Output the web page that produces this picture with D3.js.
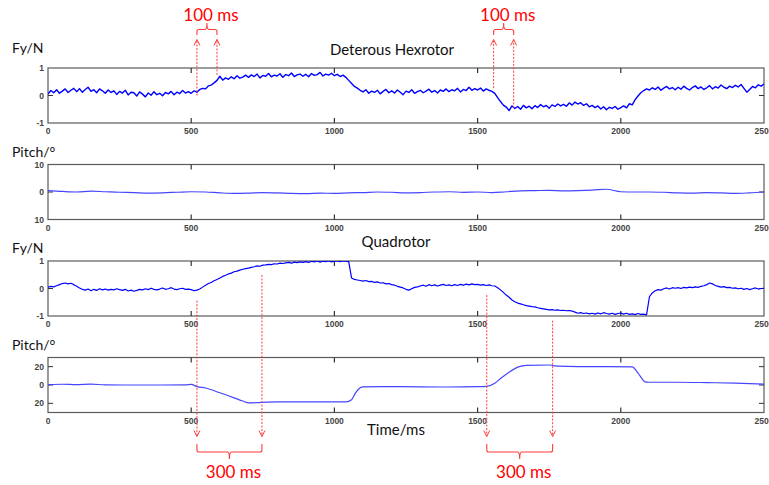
<!DOCTYPE html>
<html>
<head>
<meta charset="utf-8">
<script src="https://cdnjs.cloudflare.com/ajax/libs/d3/7.8.5/d3.min.js"></script>
<style>
  body { margin: 0; background: #fff; }
  svg { display: block; }
  .tickLabel { font-family: "Liberation Sans", Arial, sans-serif; font-size: 8.5px; font-weight: bold; fill: #444; }
  .axisTitle { font-family: Lato, "Open Sans", sans-serif; font-size: 14px; fill: #111; }
  .note { font-family: Lato, "Open Sans", sans-serif; font-size: 17px; fill: #ff0000; }
</style>
</head>
<body>
<script>

  //Data: time axis ticks and labels
  var xTicks = [0, 500, 1000, 1500, 2000, 2500];
  var xTickLabels = ["0", "500", "1000", "1500", "2000", "2500"];

  var fyTicks = [1, 0, -1];
  var fyTickLabels = ["1", "0", "-1"];
  var pitchHexTicks = [10, 0, -10];
  var pitchHexTickLabels = ["10", "0", "10"];
  var pitchQuadTicks = [20, 0, -20];
  var pitchQuadTickLabels = ["20", "0", "20"];

  // Fy of the hexrotor, one sample every 10 ms (0..2500)
  var fyHex = [
    0.05, 0.18, 0.10, 0.21, 0.08, 0.16, 0.24, 0.11, 0.19, 0.26,
    0.14, 0.25, 0.12, 0.22, 0.30, 0.15, 0.21, 0.10, 0.24, 0.17,
    0.08, 0.20, 0.11, 0.17, 0.04, 0.15, 0.09, 0.19, 0.02, 0.12,
    0.10, -0.02, 0.13, 0.05, -0.05, 0.09, 0.01, 0.14, 0.03, 0.08,
    -0.01, 0.11, 0.06, 0.15, 0.03, 0.12, 0.07, 0.18, 0.09, 0.14,
    0.08, 0.17, 0.12, 0.22, 0.26, 0.24, 0.35, 0.38, 0.46, 0.55,
    0.70, 0.56, 0.64, 0.59, 0.68, 0.61, 0.72, 0.63, 0.67, 0.74,
    0.66, 0.75, 0.69, 0.78, 0.64, 0.73, 0.70, 0.80, 0.68, 0.74,
    0.71, 0.79, 0.66, 0.76, 0.72, 0.82, 0.69, 0.75, 0.78, 0.70,
    0.77, 0.68, 0.80, 0.73, 0.76, 0.84, 0.71, 0.78, 0.74, 0.81,
    0.72, 0.77, 0.69, 0.74, 0.66, 0.55, 0.44, 0.33, 0.27, 0.19,
    0.13, 0.21, 0.08, 0.16, 0.11, 0.19, 0.06, 0.15, 0.22, 0.10,
    0.17, 0.09, 0.20, 0.12, 0.03, 0.16, 0.11, 0.21, 0.08, 0.14,
    0.19, 0.10, 0.16, 0.23, 0.12, 0.18, 0.09, 0.20, 0.15, 0.24,
    0.14, 0.21, 0.17, 0.26, 0.13, 0.22, 0.18, 0.30, 0.19, 0.25,
    0.20, 0.27, 0.16, 0.24, 0.19, 0.15, 0.08, -0.08, -0.22, -0.35,
    -0.42, -0.55, -0.38, -0.47, -0.40, -0.50, -0.36, -0.45, -0.39, -0.48,
    -0.37, -0.44, -0.33, -0.41, -0.36, -0.46, -0.34, -0.40, -0.31, -0.38,
    -0.32, -0.39, -0.27, -0.35, -0.24, -0.31, -0.26, -0.36, -0.30, -0.41,
    -0.36, -0.44, -0.38, -0.49, -0.41, -0.52, -0.43, -0.47, -0.40, -0.50,
    -0.44, -0.38, -0.45, -0.30, -0.34, -0.15, -0.02, 0.10, 0.18, 0.24,
    0.20, 0.28, 0.22, 0.31, 0.19, 0.27, 0.33, 0.24, 0.29, 0.21,
    0.30, 0.23, 0.34, 0.26, 0.20, 0.29, 0.35, 0.25, 0.31, 0.22,
    0.28, 0.36, 0.24, 0.32, 0.27, 0.38, 0.30, 0.25, 0.34, 0.29,
    0.37, 0.31, 0.40, 0.26, 0.12, 0.22, 0.33, 0.28, 0.39, 0.34,
    0.42
  ];

  // Pitch of the hexrotor, one sample every 50 ms
  var pitchHex = [
    0.5, 0.2, 0.0, 0.3, 0.1, -0.1, -0.2, -0.4, -0.3, -0.1,
    0.1, 0.0, -0.3, -0.5, -0.4, -0.2, -0.3, -0.5, -0.6, -0.4,
    -0.5, -0.3, -0.2, 0.0, -0.1, -0.3, -0.2, 0.0, 0.1, -0.1,
    0.0, -0.2, 0.1, 0.4, 0.5, 0.6, 0.4, 0.5, 0.7, 1.0,
    0.1, 0.0, 0.0, -0.1, -0.3, -0.4, -0.2, -0.3, -0.5, -0.3,
    0.0
  ];

  // Fy of the quadrotor, one sample every 10 ms
  var fyQuad = [
    0.05, 0.08, 0.06, 0.10, 0.14, 0.18, 0.20, 0.17, 0.19, 0.14,
    0.08, 0.02, -0.03, -0.06, -0.02, -0.08, -0.03, -0.07, -0.01, -0.05,
    -0.02, -0.06, -0.03, -0.05, -0.01, -0.04, -0.07, -0.03, -0.09, -0.06,
    -0.10, -0.07, -0.03, -0.05, -0.01, -0.04, 0.01, -0.03, -0.05, -0.02,
    0.02, -0.03, -0.01, 0.03, -0.02, -0.04, -0.01, 0.01, -0.03, -0.02,
    -0.04, -0.08, -0.06, -0.02, 0.05, 0.12, 0.18, 0.22, 0.28, 0.33,
    0.38, 0.44, 0.48, 0.53, 0.56, 0.61, 0.63, 0.67, 0.70, 0.72,
    0.74, 0.77, 0.79, 0.82, 0.81, 0.85, 0.86, 0.88, 0.87, 0.90,
    0.89, 0.92, 0.91, 0.93, 0.95, 0.92, 0.96, 0.94, 0.97, 0.95,
    0.98, 0.95, 0.99, 0.97, 1.00, 0.96, 0.99, 0.98, 1.00, 0.97,
    0.99, 1.00, 0.98, 1.00, 0.99, 0.98, 0.38, 0.33, 0.31, 0.29,
    0.27, 0.29, 0.25, 0.26, 0.22, 0.24, 0.20, 0.21, 0.17, 0.18,
    0.14, 0.12, 0.08, 0.05, 0.02, -0.03, -0.06, -0.01, 0.04, 0.06,
    0.09, 0.12, 0.08, 0.14, 0.10, 0.13, 0.09, 0.12, 0.15, 0.11,
    0.13, 0.10, 0.14, 0.11, 0.15, 0.12, 0.16, 0.13, 0.17, 0.14,
    0.15, 0.12, 0.14, 0.11, 0.13, 0.10, 0.09, 0.03, -0.05, -0.14,
    -0.24, -0.32, -0.42, -0.48, -0.53, -0.56, -0.59, -0.62, -0.64, -0.66,
    -0.67, -0.70, -0.72, -0.74, -0.76, -0.78, -0.77, -0.79, -0.78, -0.80,
    -0.79, -0.81, -0.80, -0.82, -0.86, -0.90, -0.88, -0.91, -0.89, -0.92,
    -0.90, -0.93, -0.89, -0.92, -0.88, -0.91, -0.93, -0.90, -0.94, -0.91,
    -0.89, -0.93, -0.90, -0.94, -0.92, -0.95, -0.91, -0.94, -0.93, -0.96,
    -0.30, -0.16, -0.08, -0.04, -0.06, -0.01, 0.02, -0.02, 0.03, 0.01,
    0.03, 0.00, 0.04, 0.02, 0.05, 0.03, 0.06, 0.04, 0.08, 0.10,
    0.14, 0.20, 0.17, 0.11, 0.08, 0.05, 0.07, 0.03, 0.04, 0.01,
    0.02, -0.01, 0.01, -0.03, 0.00, -0.04, -0.01, 0.02, -0.02, 0.00,
    0.01
  ];

  // Pitch of the quadrotor (time in ms, value in degrees)
  var pitchQuadTime = [0, 50, 100, 150, 200, 300, 400, 480, 500, 520,
    550, 600, 650, 680, 700, 800, 900, 1000, 1040, 1060,
    1075, 1090, 1100, 1200, 1300, 1400, 1500, 1530, 1560, 1580,
    1610, 1640, 1670, 1750, 1780, 1850, 1950, 2040, 2060, 2085,
    2100, 2200, 2300, 2400, 2500];
  var pitchQuadValue = [0.3, 0.8, 0.4, 0.9, 0.2, 0, 0, 0.2, 0.6, -1.8,
    -3.3, -8.5, -14, -17.5, -19.5, -18.5, -18.5, -18.3, -18.3, -16,
    -8, -3, -2, -1.8, -2, -2.2, -1.8, -1.5, 2, 7,
    14, 19.5, 21.5, 21.8, 20.5, 20, 20, 19.8, 13, 3.5,
    3, 3, 2.6, 2, 1];

  // Delay annotations: times (ms) of the two arrows, and where each arrow starts (panel units)
  var hexNotes = [
    { times: [520, 590], from: [0.0, 0.75], label: "100 ms" },
    { times: [1556, 1626], from: [0.27, -0.45], label: "100 ms" }
  ];
  var quadNotes = [
    { times: [520, 747], from: [-0.44, 0.49], label: "300 ms" },
    { times: [1532, 1762], from: [-0.24, -1.17], label: "300 ms" }
  ];

  var width = 769, height = 485;
  var panelH = 55;

  var x = d3.scaleLinear()
    .domain([0, 2500])
    .range([48, 764]);

  var panels = [
    { top: 68, domain: [-1, 1], ticks: fyTicks, labels: fyTickLabels, title: "Fy/N", titleY: 53,
      points: fyHex.map(function(v, i) { return [i * 10, v]; }), color: "#0000ff", lw: 1.4 },
    { top: 164.5, domain: [-10, 10], ticks: pitchHexTicks, labels: pitchHexTickLabels, title: "Pitch/°", titleY: 157,
      points: pitchHex.map(function(v, i) { return [i * 50, v]; }), color: "#4646ff", lw: 1.2 },
    { top: 261, domain: [-1, 1], ticks: fyTicks, labels: fyTickLabels, title: "Fy/N", titleY: 253,
      points: fyQuad.map(function(v, i) { return [i * 10, v]; }), color: "#0000ff", lw: 1.2 },
    { top: 357.5, domain: [-30, 30], ticks: pitchQuadTicks, labels: pitchQuadTickLabels, title: "Pitch/°", titleY: 350,
      points: pitchQuadValue.map(function(v, i) { return [pitchQuadTime[i], v]; }), color: "#4646ff", lw: 1.2 }
  ];

  var svg = d3.select("body")
    .append("svg")
    .attr("width", width)
    .attr("height", height);

  panels.forEach(function(p, k) {
    p.y = d3.scaleLinear()
      .domain(p.domain)
      .range([p.top + panelH, p.top]);

    var g = svg.append("g").attr("class", "panel");
    var bottom = p.top + panelH;

    svg.append("clipPath")
      .attr("id", "clip" + k)
      .append("rect")
      .attr("x", x(0))
      .attr("y", p.top)
      .attr("width", x(2500) - x(0))
      .attr("height", panelH);

    //Frame
    g.append("rect")
      .attr("x", x(0))
      .attr("y", p.top)
      .attr("width", x(2500) - x(0))
      .attr("height", panelH)
      .attr("fill", "none")
      .attr("stroke", "#5a5a5a")
      .attr("stroke-width", 1.2);

    //Inner tick marks on top and bottom
    g.selectAll(".xtick")
      .data(xTicks.slice(1, -1))
      .enter().append("path")
      .attr("d", function(d) {
        return "M" + x(d) + "," + p.top + "v5M" + x(d) + "," + bottom + "v-5";
      })
      .attr("stroke", "#333")
      .attr("stroke-width", 1.2);

    // last label runs past the window edge, as in the original figure
    g.selectAll(".xlabel")
      .data(xTicks)
      .enter().append("text")
      .attr("class", "tickLabel")
      .attr("x", function(d) { return x(d); })
      .attr("y", bottom + 11)
      .attr("text-anchor", "middle")
      .text(function(d, i) { return xTickLabels[i]; });

    //Y ticks on both sides
    g.selectAll(".ytick")
      .data(p.ticks.filter(function(d) { return d > p.domain[0] && d < p.domain[1]; }))
      .enter().append("path")
      .attr("d", function(d) {
        return "M" + x(0) + "," + p.y(d) + "h5M" + x(2500) + "," + p.y(d) + "h-5";
      })
      .attr("stroke", "#333")
      .attr("stroke-width", 1);

    g.selectAll(".ylabel")
      .data(p.ticks)
      .enter().append("text")
      .attr("class", "tickLabel")
      .attr("x", 44)
      .attr("y", function(d) { return p.y(d) + 3; })
      .attr("text-anchor", "end")
      .text(function(d, i) { return p.labels[i]; });

    //Data line
    var line = d3.line()
      .x(function(d) { return x(d[0]); })
      .y(function(d) { return p.y(d[1]); });
    if (k % 2 == 1) line.curve(d3.curveMonotoneX);

    g.append("path")
      .datum(p.points)
      .attr("clip-path", "url(#clip" + k + ")")
      .attr("d", line)
      .attr("fill", "none")
      .attr("stroke", p.color)
      .attr("stroke-width", p.lw)
      .attr("stroke-linejoin", "round");

    svg.append("text")
      .attr("class", "axisTitle")
      .attr("x", 12)
      .attr("y", p.titleY)
      .text(p.title);
  });

  svg.append("text")
    .attr("class", "axisTitle")
    .attr("x", 392)
    .attr("y", 55)
    .attr("text-anchor", "middle")
    .style("font-size", "15px")
    .text("Deterous Hexrotor");

  svg.append("text")
    .attr("class", "axisTitle")
    .attr("x", 396)
    .attr("y", 247)
    .attr("text-anchor", "middle")
    .style("font-size", "15px")
    .text("Quadrotor");

  svg.append("text")
    .attr("class", "axisTitle")
    .attr("x", 396)
    .attr("y", 435)
    .attr("text-anchor", "middle")
    .style("font-size", "15px")
    .text("Time/ms");

  //Red annotations
  var notes = svg.append("g").attr("class", "notes");

  function brace(x1, x2, yEnd, yBar, yTip) {
    var xm = (x1 + x2) / 2, s = yBar > yEnd ? 1 : -1;
    return "M" + x1 + "," + yEnd + "L" + x1 + "," + (yBar - 2 * s) +
      "Q" + x1 + "," + yBar + " " + (x1 + 2) + "," + yBar +
      "L" + (xm - 2) + "," + yBar + "Q" + xm + "," + yBar + " " + xm + "," + yTip +
      "Q" + xm + "," + yBar + " " + (xm + 2) + "," + yBar +
      "L" + (x2 - 2) + "," + yBar + "Q" + x2 + "," + yBar + " " + x2 + "," + (yBar - 2 * s) +
      "L" + x2 + "," + yEnd;
  }

  function drawNotes(list, panel, tipY, braceEnd, braceBar, braceTip, textY) {
    list.forEach(function(n) {
      var dir = tipY < panel.top ? 1 : -1; // 1 = arrow points up
      n.times.forEach(function(t, j) {
        var xx = x(t);
        notes.append("line")
          .attr("x1", xx).attr("x2", xx)
          .attr("y1", panel.y(n.from[j]))
          .attr("y2", tipY)
          .attr("stroke", "#ff3b3b")
          .attr("stroke-width", 1)
          .attr("stroke-dasharray", "2,1.5");
        notes.append("path")
          .attr("d", "M" + (xx - 3) + "," + (tipY + 6 * dir) + "L" + xx + "," + tipY + "L" + (xx + 3) + "," + (tipY + 6 * dir))
          .attr("fill", "none")
          .attr("stroke", "#ff3b3b")
          .attr("stroke-width", 1);
      });
      var x1 = x(n.times[0]), x2 = x(n.times[1]);
      notes.append("path")
        .attr("d", brace(x1, x2, braceEnd, braceBar, braceTip))
        .attr("fill", "none")
        .attr("stroke", "#ff3b3b")
        .attr("stroke-width", 1.1);
      notes.append("text")
        .attr("class", "note")
        .attr("x", (x1 + x2) / 2 + 4)
        .attr("y", textY)
        .attr("text-anchor", "middle")
        .text(n.label);
    });
  }

  drawNotes(hexNotes, panels[0], 39.5, 35, 29.5, 23, 21);
  drawNotes(quadNotes, panels[2], 436.5, 444, 452, 459, 478);

</script>
</body>
</html>
